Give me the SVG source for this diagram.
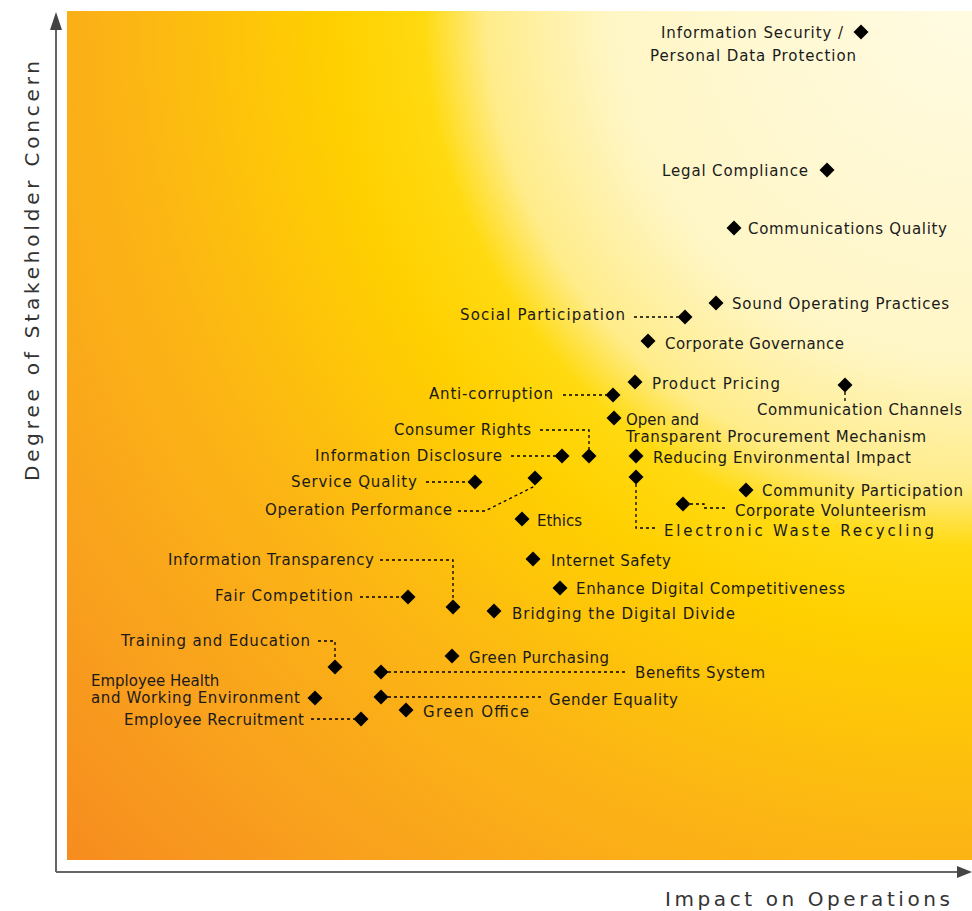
<svg xmlns="http://www.w3.org/2000/svg" width="972" height="911" viewBox="0 0 972 911">
<defs>
<radialGradient id="bg" gradientUnits="userSpaceOnUse" cx="965" cy="5" r="1260">
<stop offset="0" stop-color="#FFFBE2"/>
<stop offset="0.28" stop-color="#FFF6C6"/>
<stop offset="0.38" stop-color="#FFEC8A"/>
<stop offset="0.43" stop-color="#FFDA10"/>
<stop offset="0.5" stop-color="#FFD000"/>
<stop offset="0.66" stop-color="#FCB614"/>
<stop offset="0.82" stop-color="#F9A21D"/>
<stop offset="1" stop-color="#F68A1F"/>
</radialGradient>
<symbol id="dm" viewBox="-8 -8 16 16" overflow="visible"><path d="M0 -7.5 L7.5 0 L0 7.5 L-7.5 0 Z" fill="#000"/></symbol>
</defs>
<style>
text{font-family:"DejaVu Sans","Liberation Sans",sans-serif;font-size:15px;fill:#1a1a1a}
.ax{font-size:20px;fill:#333}
.c{fill:none;stroke:#000;stroke-width:1.3;stroke-dasharray:3 3}
.axis{stroke:#666;stroke-width:2;fill:none}
</style>
<rect x="67" y="11" width="905" height="849" fill="url(#bg)"/>
<g id="axes">
<path class="axis" d="M56 872 V28 M56 872 H958"/>
<path d="M56 12 L50 30 L62 30 Z" fill="#444"/>
<path d="M972 872 L957 866 L957 878 Z" fill="#444"/>
<text class="ax" transform="translate(39,481) rotate(-90)" textLength="420" lengthAdjust="spacing">Degree of Stakeholder Concern</text>
<text class="ax" x="665" y="906" textLength="285" lengthAdjust="spacing">Impact on Operations</text>
</g>
<g id="connectors">
<path class="c" d="M634 317 H678"/>
<path class="c" d="M563 395 H606"/>
<path class="c" d="M540 430 H589 V449"/>
<path class="c" d="M511 456 H555"/>
<path class="c" d="M426 482 H468"/>
<path class="c" d="M458 511 H485 L535 486"/>
<path class="c" d="M636 484 V528 H658"/>
<path class="c" d="M690 504 H704 V508 H728"/>
<path class="c" d="M845 392 V403"/>
<path class="c" d="M380 560 H453 V600"/>
<path class="c" d="M360 597 H401"/>
<path class="c" d="M318 641 H335 V660"/>
<path class="c" d="M388 672 H628"/>
<path class="c" d="M388 697 H542"/>
<path class="c" d="M311 719 H354"/>
</g>
<g id="n1"><use href="#dm" x="853" y="24" width="16" height="16"/><text x="661" y="38" textLength="182">Information Security /</text><text x="650" y="61" textLength="206">Personal Data Protection</text></g>
<g id="n2"><use href="#dm" x="819" y="162" width="16" height="16"/><text x="662" y="176" textLength="146">Legal Compliance</text></g>
<g id="n3"><use href="#dm" x="726" y="220" width="16" height="16"/><text x="748" y="234" textLength="199">Communications Quality</text></g>
<g id="n4"><use href="#dm" x="708" y="295" width="16" height="16"/><text x="732" y="309" textLength="217">Sound Operating Practices</text></g>
<g id="n5"><use href="#dm" x="677" y="309" width="16" height="16"/><text x="460" y="320" textLength="165">Social Participation</text></g>
<g id="n6"><use href="#dm" x="640" y="333" width="16" height="16"/><text x="665" y="349" textLength="179">Corporate Governance</text></g>
<g id="n7"><use href="#dm" x="627" y="374" width="16" height="16"/><text x="652" y="389" textLength="128">Product Pricing</text></g>
<g id="n8"><use href="#dm" x="837" y="377" width="16" height="16"/><text x="757" y="415" textLength="205">Communication Channels</text></g>
<g id="n9"><use href="#dm" x="605" y="387" width="16" height="16"/><text x="429" y="399" textLength="124">Anti-corruption</text></g>
<g id="n10"><use href="#dm" x="606" y="410" width="16" height="16"/><text x="626" y="425">Open and</text><text x="626" y="442" textLength="300">Transparent Procurement Mechanism</text></g>
<g id="n11"><use href="#dm" x="581" y="448" width="16" height="16"/><text x="394" y="435" textLength="137">Consumer Rights</text></g>
<g id="n12"><use href="#dm" x="554" y="448" width="16" height="16"/><text x="315" y="461" textLength="187">Information Disclosure</text></g>
<g id="n13"><use href="#dm" x="628" y="448" width="16" height="16"/><text x="653" y="463" textLength="258">Reducing Environmental Impact</text></g>
<g id="n14"><use href="#dm" x="628" y="469" width="16" height="16"/><text x="664" y="536" textLength="270" lengthAdjust="spacing">Electronic Waste Recycling</text></g>
<g id="n15"><use href="#dm" x="527" y="470" width="16" height="16"/><text x="265" y="515" textLength="187">Operation Performance</text></g>
<g id="n16"><use href="#dm" x="467" y="474" width="16" height="16"/><text x="291" y="487" textLength="126">Service Quality</text></g>
<g id="n17"><use href="#dm" x="738" y="482" width="16" height="16"/><text x="762" y="496" textLength="201">Community Participation</text></g>
<g id="n18"><use href="#dm" x="675" y="496" width="16" height="16"/><text x="735" y="516" textLength="191">Corporate Volunteerism</text></g>
<g id="n19"><use href="#dm" x="514" y="511" width="16" height="16"/><text x="537" y="526">Ethics</text></g>
<g id="n20"><use href="#dm" x="525" y="551" width="16" height="16"/><text x="551" y="566" textLength="120">Internet Safety</text></g>
<g id="n21"><use href="#dm" x="552" y="580" width="16" height="16"/><text x="576" y="594" textLength="269">Enhance Digital Competitiveness</text></g>
<g id="n22"><use href="#dm" x="445" y="599" width="16" height="16"/><text x="168" y="565" textLength="206">Information Transparency</text></g>
<g id="n23"><use href="#dm" x="400" y="589" width="16" height="16"/><text x="215" y="601" textLength="138">Fair Competition</text></g>
<g id="n24"><use href="#dm" x="486" y="603" width="16" height="16"/><text x="512" y="619" textLength="223">Bridging the Digital Divide</text></g>
<g id="n25"><use href="#dm" x="444" y="648" width="16" height="16"/><text x="469" y="663" textLength="140">Green Purchasing</text></g>
<g id="n26"><use href="#dm" x="327" y="659" width="16" height="16"/><text x="121" y="646" textLength="189">Training and Education</text></g>
<g id="n27"><use href="#dm" x="373" y="664" width="16" height="16"/><text x="635" y="678" textLength="130">Benefits System</text></g>
<g id="n28"><use href="#dm" x="307" y="690" width="16" height="16"/><text x="91" y="686">Employee Health</text><text x="91" y="703" textLength="209">and Working Environment</text></g>
<g id="n29"><use href="#dm" x="373" y="689" width="16" height="16"/><text x="549" y="705" textLength="129">Gender Equality</text></g>
<g id="n30"><use href="#dm" x="398" y="702" width="16" height="16"/><text x="423" y="717" textLength="106">Green Office</text></g>
<g id="n31"><use href="#dm" x="353" y="711" width="16" height="16"/><text x="124" y="725" textLength="180">Employee Recruitment</text></g>
</svg>
